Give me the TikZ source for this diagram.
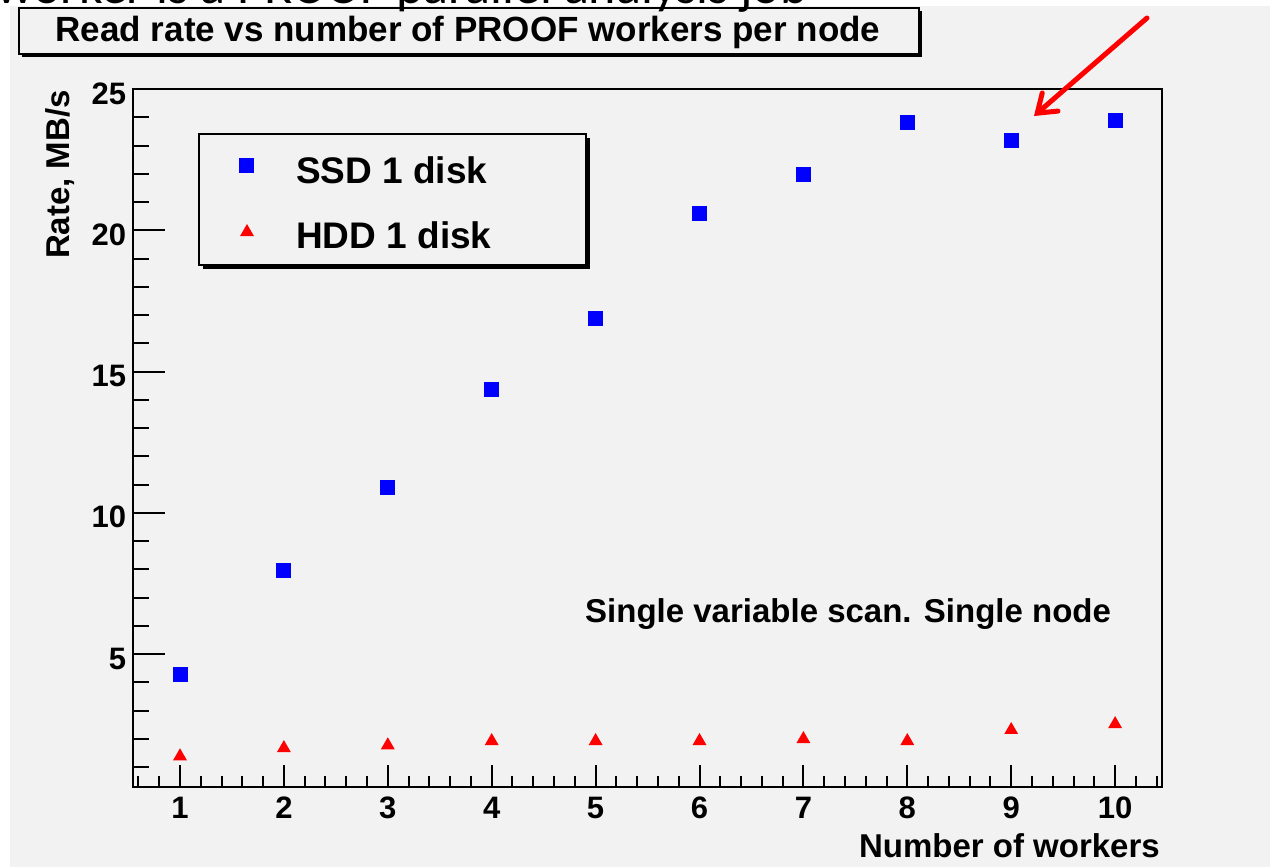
\documentclass[tikz,border=0pt]{standalone}
\usepackage{fontspec}
\setmainfont{Liberation Sans}
\newfontfamily\slidefont{Carlito}
\usetikzlibrary{arrows.meta,shapes.geometric}
\definecolor{canvasgray}{HTML}{F2F2F2}
\definecolor{rootblue}{HTML}{0000FF}
\definecolor{rootred}{HTML}{FF0000}

\begin{document}
\begin{tikzpicture}[x=1pt,y=1pt,
  axisline/.style={line width=2.2pt,black},
  tickmark/.style={line width=2pt,black},
  ssdmark/.style={rectangle,fill=rootblue,minimum size=15pt,inner sep=0pt},
  hddmark/.style={regular polygon,regular polygon sides=3,fill=rootred,minimum size=16pt,inner sep=0pt},
  ticklabel/.style={font=\fontsize{31}{31}\selectfont\bfseries,inner sep=0pt},
  axtitle/.style={font=\fontsize{33}{33}\selectfont\bfseries,inner sep=0pt},
  legtext/.style={font=\fontsize{37}{37}\selectfont\bfseries,inner sep=0pt,anchor=base west},
  pavebox/.style={draw=black,line width=2pt,fill=canvasgray,inner sep=0pt,anchor=north west}
]
\useasboundingbox (0,0) rectangle (1270,-867);
% canvas
\fill[white] (0,0) rectangle (1270,-867);
\fill[canvasgray] (10,-6) rectangle (1270,-867);

% title pave with shadow
\fill[black] (22,-11) rectangle (922,-57);
\node[pavebox,minimum width=900pt,minimum height=46pt] (titlebox) at (18,-7) {};
\node[font=\fontsize{35}{35}\selectfont\bfseries,inner sep=0pt,anchor=base] (titletext) at (468,-42)
  {Read rate vs number of PROOF workers per node};

% plot area: data coordinates
\begin{scope}[shift={(76.1,-795.25)},x=103.9pt,y=28.25pt]
  \draw[axisline] (0.55,0.28) rectangle (10.45,25);
  % y ticks
  \foreach \v in {1,...,25} \draw[tickmark] (0.55,\v) -- ++(16pt,0);
  \foreach \v in {5,10,15,20,25} {
    \draw[tickmark] (0.55,\v) -- ++(32pt,0);
    \node[ticklabel,anchor=base east,xshift=-7pt,yshift=-15pt] (yl\v) at (0.55,\v) {\v};
  }
  % x ticks
  \foreach \i in {3,...,52} \draw[tickmark] (\i/5,0.28) -- ++(0,11pt);
  \foreach \v in {1,...,10} {
    \draw[tickmark] (\v,0.28) -- ++(0,22pt);
    \node[ticklabel,anchor=base,yshift=-31pt] (xl\v) at (\v,0.28) {\v};
  }
  % SSD points
  \foreach \n/\r in {1/4.29,2/7.94,3/10.88,4/14.38,5/16.89,6/20.61,7/21.99,8/23.83,9/23.16,10/23.90}
    \node[ssdmark] (ssd\n) at (\n,\r) {};
  % HDD points
  \foreach \n/\r in {1/1.38,2/1.67,3/1.77,4/1.92,5/1.92,6/1.92,7/1.99,8/1.92,9/2.31,10/2.52}
    \node[hddmark] (hdd\n) at (\n,\r) {};
\end{scope}

% axis titles
\node[axtitle,anchor=base east] (xtitle) at (1160,-857) {Number of workers};
\node[axtitle,rotate=90,anchor=base east] (ytitle) at (69,-90) {Rate, MB/s};

% annotation
\node[axtitle,anchor=base west] (note) at (585,-622) {Single variable scan. Single node};

% legend with shadow
\fill[black] (203,-138) rectangle (590,-269);
\node[pavebox,minimum width=387pt,minimum height=131pt] (legend) at (198,-133) {};
\node[ssdmark] (legssd) at (246,-165) {};
\node[legtext] (legssdtext) at (296,-183) {SSD 1 disk};
\node[hddmark] (leghdd) at (247,-232) {};
\node[legtext] (leghddtext) at (296,-248) {HDD 1 disk};

% red pointer
\coordinate (arrowtail) at (1147,-18);
\coordinate (arrowtip) at (1034,-116);
\draw[rootred,line width=5pt,line cap=round,-{Straight Barb[length=17pt,width=24pt,line cap=round]}] (arrowtail) -- (arrowtip);

% slide caption running above the figure
\begin{scope}
  \clip (0,0) rectangle (1270,-14);
  \node[font=\slidefont\fontsize{52}{52}\selectfont,inner sep=0pt,anchor=base east] (caption) at (808,-4)
    {worker is a PROOF parallel analysis job};
\end{scope}
\end{tikzpicture}
\end{document}
